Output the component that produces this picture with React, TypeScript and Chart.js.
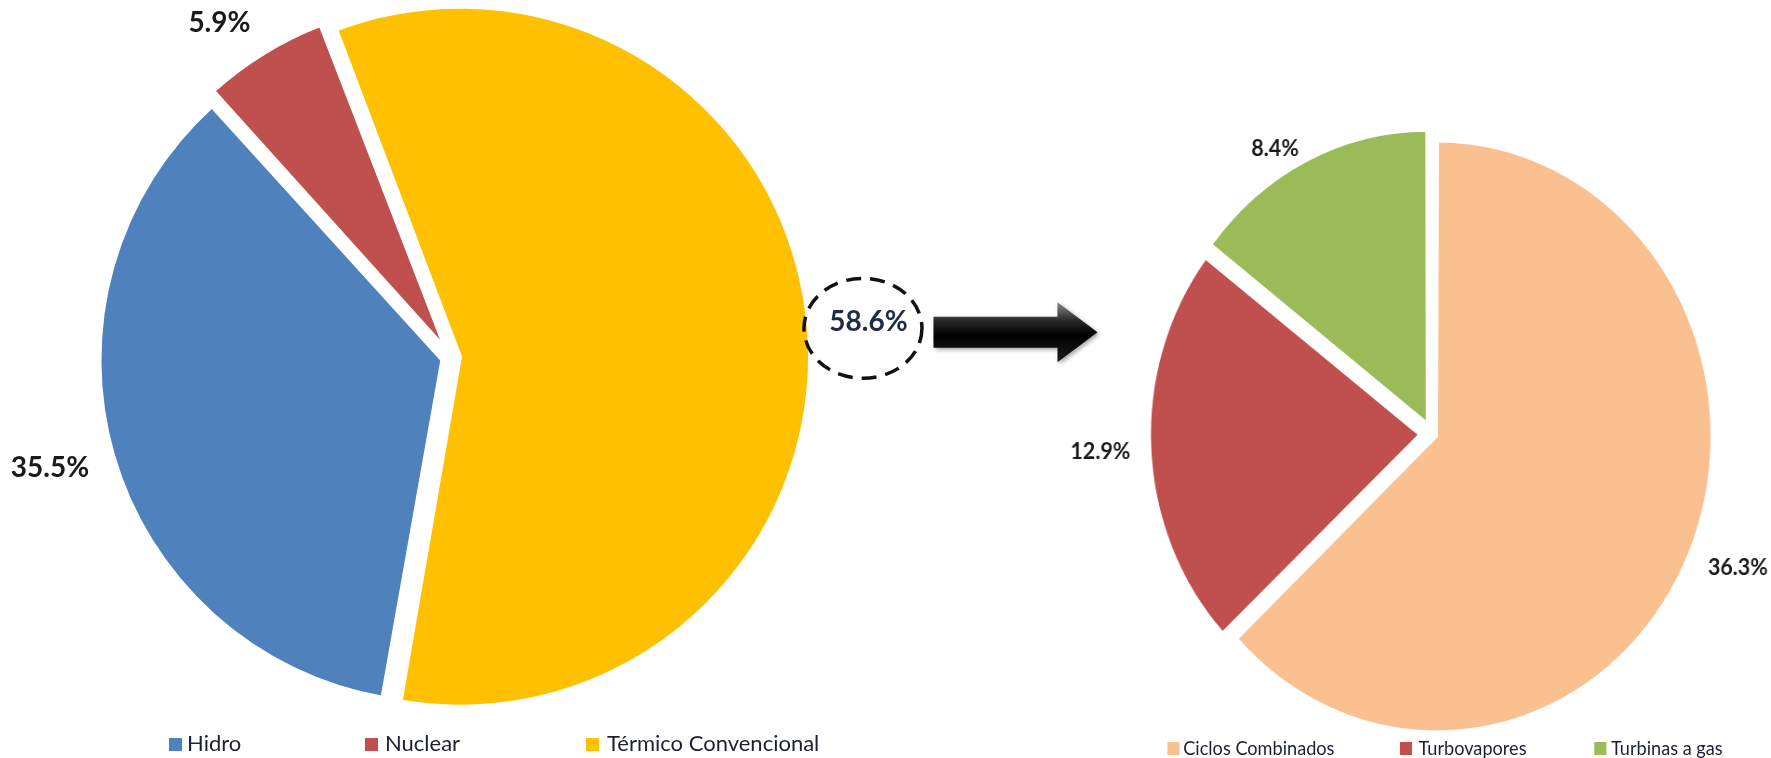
import React, { useEffect, useRef } from "react";
import { Chart, registerables } from "chart.js";

Chart.register(...registerables);

// ---- data ----
const mainLabels = ["Hidro", "Nuclear", "Térmico Convencional"];
const mainValues = [35.5, 5.9, 58.6];
const mainColors = ["#4F81BD", "#C0504D", "#FFC000"];

const thermalLabels = ["Ciclos Combinados", "Turbovapores", "Turbinas a gas"];
const thermalValues = [36.3, 12.9, 8.4];
const thermalColors = ["#FAC090", "#C0504D", "#9BBB59"];

// ---- style / layout ----
const FONT = "Lato, 'Noto Sans', 'DejaVu Sans', sans-serif";
const TEXT_DARK = "#1b2033";
const LEFT_LEGEND_POS = [
  { box: 169, text: 187 },
  { box: 365, text: 385 },
  { box: 586, text: 607 },
];
const RIGHT_LEGEND_POS = [
  { box: 180, text: 197 },
  { box: 430, text: 450 },
  { box: 639, text: 657 },
];
const RIGHT_SCALE_X = 0.93;

type LabelCfg = {
  font: string;
  colors: string[];
  distance: number[];
  nudgeDeg: number[];
  highlight?: number;
};

function makeLabelPlugin(cfg: LabelCfg) {
  return {
    id: "sliceLabels",
    afterDatasetsDraw(chart: any) {
      const ctx: CanvasRenderingContext2D = chart.ctx;
      const meta = chart.getDatasetMeta(0);
      const ds = chart.data.datasets[0];
      ctx.save();
      meta.data.forEach((arc: any, i: number) => {
        const mid =
          (arc.startAngle + arc.endAngle) / 2 + (cfg.nudgeDeg[i] * Math.PI) / 180;
        const R = arc.outerRadius + cfg.distance[i];
        const x = arc.x + Math.cos(mid) * R;
        const y = arc.y + Math.sin(mid) * R;
        if (cfg.highlight === i) {
          // dashed ellipse around the label
          ctx.save();
          ctx.beginPath();
          ctx.ellipse(x - 5.5, y + 6.5, 59, 50, 0, 0, Math.PI * 2);
          ctx.setLineDash([15, 9]);
          ctx.lineWidth = 3.5;
          ctx.strokeStyle = "#111";
          ctx.stroke();
          ctx.restore();
          // arrow
          const ay = y + 10.5;
          const x0 = x + 65;
          const xh = x + 189;
          const xt = x + 229;
          const sh = 15.5;
          const hh = 30;
          ctx.save();
          ctx.shadowColor = "rgba(0,0,0,0.35)";
          ctx.shadowBlur = 4;
          ctx.shadowOffsetX = 2;
          ctx.shadowOffsetY = 2;
          const g = ctx.createLinearGradient(0, ay - hh, 0, ay + hh);
          g.addColorStop(0, "#8a8a8a");
          g.addColorStop(0.3, "#2a2a2a");
          g.addColorStop(0.55, "#000");
          g.addColorStop(1, "#1e1e1e");
          ctx.fillStyle = g;
          ctx.beginPath();
          ctx.moveTo(x0, ay - sh);
          ctx.lineTo(xh, ay - sh);
          ctx.lineTo(xh, ay - hh);
          ctx.lineTo(xt, ay);
          ctx.lineTo(xh, ay + hh);
          ctx.lineTo(xh, ay + sh);
          ctx.lineTo(x0, ay + sh);
          ctx.closePath();
          ctx.fill();
          ctx.restore();
        }
        ctx.font = cfg.font;
        ctx.textAlign = "center";
        ctx.textBaseline = "middle";
        ctx.fillStyle = cfg.colors[i];
        ctx.fillText(Number(ds.data[i]).toFixed(1) + "%", x, y);
      });
      ctx.restore();
    },
  };
}

function Legend({
  labels,
  colors,
  pos,
  y,
  size,
  box,
}: {
  labels: string[];
  colors: string[];
  pos: { box: number; text: number }[];
  y: number;
  size: number;
  box: number;
}) {
  return (
    <>
      {labels.map((l, i) => (
        <React.Fragment key={l}>
          <div
            style={{
              position: "absolute",
              left: pos[i].box,
              top: y - box / 2,
              width: box,
              height: box,
              background: colors[i],
            }}
          />
          <div
            style={{
              position: "absolute",
              left: pos[i].text,
              top: y - size * 0.62,
              fontFamily: FONT,
              fontSize: size,
              lineHeight: `${size * 1.2}px`,
              color: TEXT_DARK,
              whiteSpace: "nowrap",
            }}
          >
            {l}
          </div>
        </React.Fragment>
      ))}
    </>
  );
}

export default function App() {
  const leftRef = useRef<HTMLCanvasElement>(null);
  const rightRef = useRef<HTMLCanvasElement>(null);

  useEffect(() => {
    const left = new Chart(leftRef.current!, {
      type: "pie",
      data: {
        labels: mainLabels,
        datasets: [
          {
            data: mainValues,
            backgroundColor: mainColors,
            borderColor: "#ffffff",
            borderWidth: 4,
            offset: [36, 40, 36],
            radius: 341,
          } as any,
        ],
      },
      options: {
        responsive: false,
        animation: false,
        events: [],
        rotation: 190,
        layout: { padding: { left: 0, top: 0, right: 208, bottom: 43 } },
        plugins: { legend: { display: false }, tooltip: { enabled: false } },
      },
      plugins: [
        makeLabelPlugin({
          font: `bold 28px ${FONT}`,
          colors: ["#1a1a1a", "#1a1a1a", "#1f2b47"],
          distance: [75, 66, 78],
          nudgeDeg: [0.7, -3.1, 0.6],
          highlight: 2,
        }),
      ],
    });

    const right = new Chart(rightRef.current!, {
      type: "pie",
      data: {
        labels: thermalLabels,
        datasets: [
          {
            data: thermalValues,
            backgroundColor: thermalColors,
            borderColor: "#ffffff",
            borderWidth: 2,
            offset: [24, 56, 52],
            radius: 289,
          } as any,
        ],
      },
      options: {
        responsive: false,
        animation: false,
        events: [],
        rotation: 0,
        layout: { padding: { left: 100, top: 110, right: 0, bottom: 0 } },
        plugins: { legend: { display: false }, tooltip: { enabled: false } },
      },
      plugins: [
        makeLabelPlugin({
          font: `bold 23px ${FONT}`,
          colors: ["#1a1a1a", "#1a1a1a", "#1a1a1a"],
          distance: [66, 68, 43],
          nudgeDeg: [-1.3, 0, -4.3],
        }),
      ],
    });

    return () => {
      left.destroy();
      right.destroy();
    };
  }, []);

  return (
    <div
      style={{
        position: "absolute",
        left: 0,
        top: 0,
        width: 1771,
        height: 758,
        overflow: "hidden",
        background: "#fff",
      }}
    >
      <canvas
        ref={leftRef}
        width={1110}
        height={758}
        style={{ position: "absolute", left: 0, top: 0, display: "block" }}
      />
      <Legend
        labels={mainLabels}
        colors={mainColors}
        pos={LEFT_LEGEND_POS}
        y={744}
        size={22}
        box={13}
      />
      <div
        style={{
          position: "absolute",
          left: 1000,
          top: 0,
          width: 829,
          height: 758,
          transform: `scaleX(${RIGHT_SCALE_X})`,
          transformOrigin: "0 0",
        }}
      >
        <canvas
          ref={rightRef}
          width={829}
          height={758}
          style={{ position: "absolute", left: 0, top: 0, display: "block" }}
        />
        <Legend
          labels={thermalLabels}
          colors={thermalColors}
          pos={RIGHT_LEGEND_POS}
          y={748}
          size={19.5}
          box={13}
        />
      </div>
    </div>
  );
}
